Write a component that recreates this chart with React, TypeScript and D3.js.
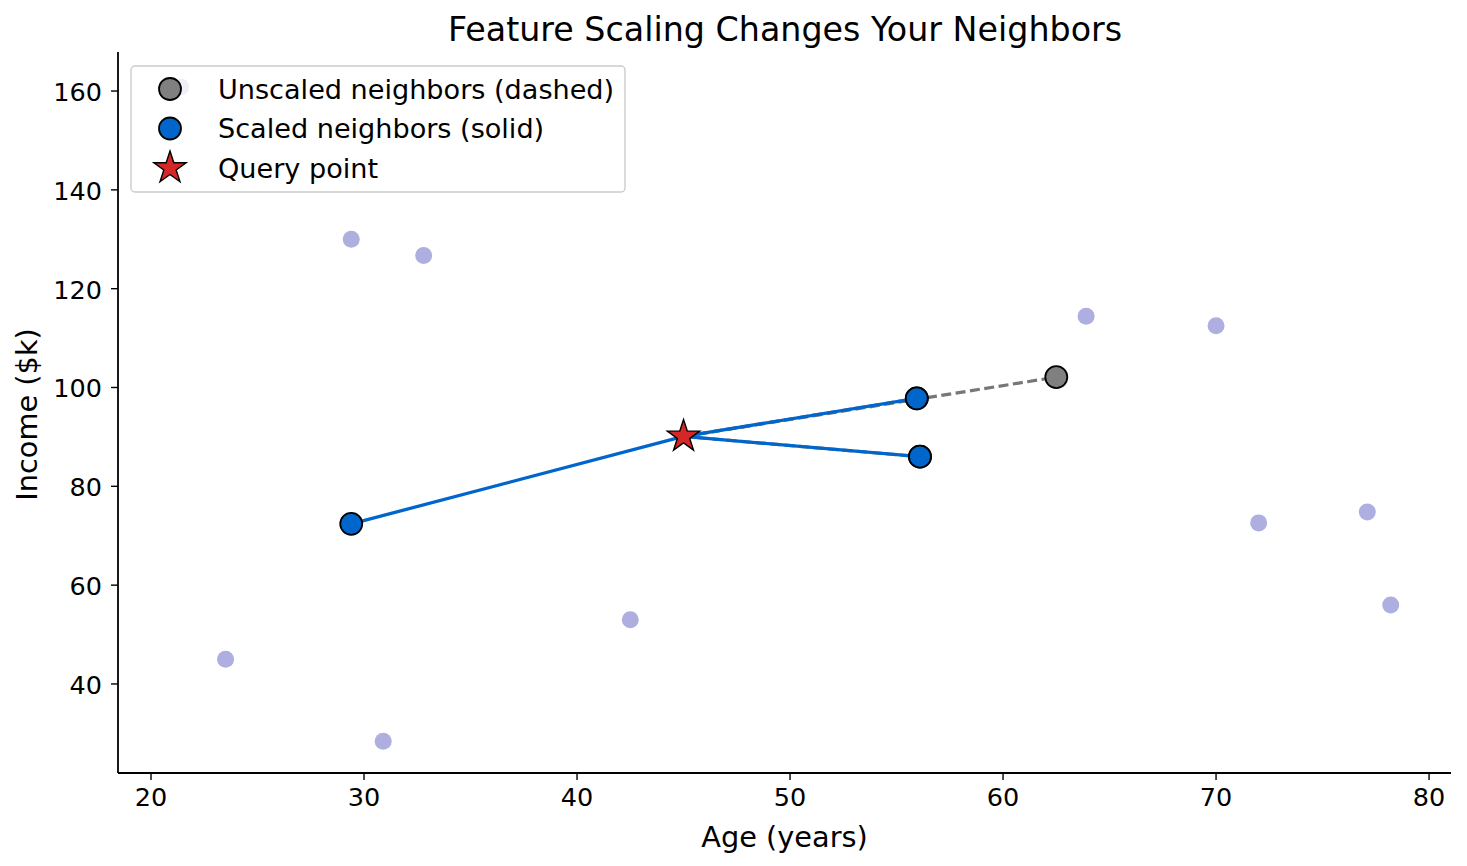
import React from "react";
import * as d3 from "d3";

const bgAge = [21.4, 23.5, 29.4, 32.8, 30.9, 42.5, 63.9, 70.0, 72.0, 77.1, 78.2];
const bgIncome = [160.8, 45.0, 130.0, 126.7, 28.4, 53.0, 114.4, 112.5, 72.6, 74.8, 56.0];

const unscaledAge = [56.1, 55.95, 62.5];
const unscaledIncome = [86.0, 97.8, 102.1];

const scaledAge = [29.4, 55.95, 56.1];
const scaledIncome = [72.4, 97.8, 86.0];

const queryAge = 45.0;
const queryIncome = 90.1;

const xTicks = [20, 30, 40, 50, 60, 70, 80];
const yTicks = [40, 60, 80, 100, 120, 140, 160];

const legendLabels = ["Unscaled neighbors (dashed)", "Scaled neighbors (solid)", "Query point"];

const W = 1467;
const H = 866;
const L = 118, R = 1451, T = 52, B = 773;
const FONT = "DejaVu Sans, sans-serif";

function starPath(cx: number, cy: number, r: number) {
  const pts: string[] = [];
  const inner = r * 0.382;
  for (let i = 0; i < 10; i++) {
    const rr = i % 2 === 0 ? r : inner;
    const a = -Math.PI / 2 + (i * Math.PI) / 5;
    pts.push(`${cx + rr * Math.cos(a)},${cy + rr * Math.sin(a)}`);
  }
  return "M" + pts.join("L") + "Z";
}

export default function App() {
  const x = d3.scaleLinear().domain([18.45, 81.03]).range([L, R]);
  const y = d3.scaleLinear().domain([21.98, 167.9]).range([B, T]);
  const line = d3.line<[number, number]>().x((d) => x(d[0])).y((d) => y(d[1]));
  const blue = "#0066cc";
  const gray = "#808080";
  const red = "#d62728";

  return (
    <svg width={W} height={H} style={{ position: "absolute", left: 0, top: 0 }}>
      <rect width={W} height={H} fill="white" />
      <text x={(L + R) / 2 + 0.5} y={41} textAnchor="middle" fontFamily={FONT} fontSize={33.3}>
        Feature Scaling Changes Your Neighbors
      </text>
      {bgAge.map((a, i) => (
        <circle key={"bg" + i} cx={x(a)} cy={y(bgIncome[i])} r={8.5} fill="#aeaee0" />
      ))}
      {unscaledAge.map((a, i) => (
        <path
          key={"ul" + i}
          d={line([[queryAge, queryIncome], [a, unscaledIncome[i]]]) || ""}
          stroke="#777777"
          strokeWidth={3.2}
          strokeDasharray="10,4.5"
          fill="none"
        />
      ))}
      {scaledAge.map((a, i) => (
        <path
          key={"sl" + i}
          d={line([[queryAge, queryIncome], [a, scaledIncome[i]]]) || ""}
          stroke={blue}
          strokeWidth={3.3}
          fill="none"
        />
      ))}
      {unscaledAge.map((a, i) => (
        <circle key={"um" + i} cx={x(a)} cy={y(unscaledIncome[i])} r={11} fill={gray} stroke="black" strokeWidth={1.8} />
      ))}
      {scaledAge.map((a, i) => (
        <circle key={"sm" + i} cx={x(a)} cy={y(scaledIncome[i])} r={11} fill={blue} stroke="black" strokeWidth={1.8} />
      ))}
      <path d={starPath(x(queryAge), y(queryIncome), 17)} fill={red} stroke="black" strokeWidth={1.4} />

      {/* axes */}
      <line x1={L} x2={L} y1={T} y2={B} stroke="black" strokeWidth={1.8} />
      <line x1={L} x2={R} y1={B} y2={B} stroke="black" strokeWidth={1.8} />
      {xTicks.map((t) => (
        <g key={"xt" + t}>
          <line x1={x(t)} x2={x(t)} y1={B} y2={B + 7} stroke="black" strokeWidth={1.4} />
          <text x={x(t)} y={B + 33} textAnchor="middle" fontFamily={FONT} fontSize={25.5}>
            {t}
          </text>
        </g>
      ))}
      {yTicks.map((t) => (
        <g key={"yt" + t}>
          <line x1={L - 7} x2={L} y1={y(t)} y2={y(t)} stroke="black" strokeWidth={1.4} />
          <text x={L - 16} y={y(t) + 10} textAnchor="end" fontFamily={FONT} fontSize={25.5}>
            {t}
          </text>
        </g>
      ))}
      <text x={(L + R) / 2} y={847} textAnchor="middle" fontFamily={FONT} fontSize={28.8}>
        Age (years)
      </text>
      <text
        transform={`translate(37,${(T + B) / 2 + 2}) rotate(-90)`}
        textAnchor="middle"
        fontFamily={FONT}
        fontSize={28.8}
      >
        Income ($k)
      </text>

      {/* legend */}
      <rect x={131} y={66} width={494} height={126} rx={4} fill="white" fillOpacity={0.8} stroke="#cccccc" strokeWidth={1.4} />
      {legendLabels.map((lab, i) => {
        const cy = 89 + i * 39.5;
        return (
          <g key={"lg" + i}>
            {i === 0 && <circle cx={170} cy={cy} r={11} fill={gray} stroke="black" strokeWidth={1.8} />}
            {i === 1 && <circle cx={170} cy={cy} r={11} fill={blue} stroke="black" strokeWidth={1.8} />}
            {i === 2 && <path d={starPath(170, cy, 17)} fill={red} stroke="black" strokeWidth={1.4} />}
            <text x={218} y={cy + 9.5} fontFamily={FONT} fontSize={27.1}>
              {lab}
            </text>
          </g>
        );
      })}
    </svg>
  );
}
